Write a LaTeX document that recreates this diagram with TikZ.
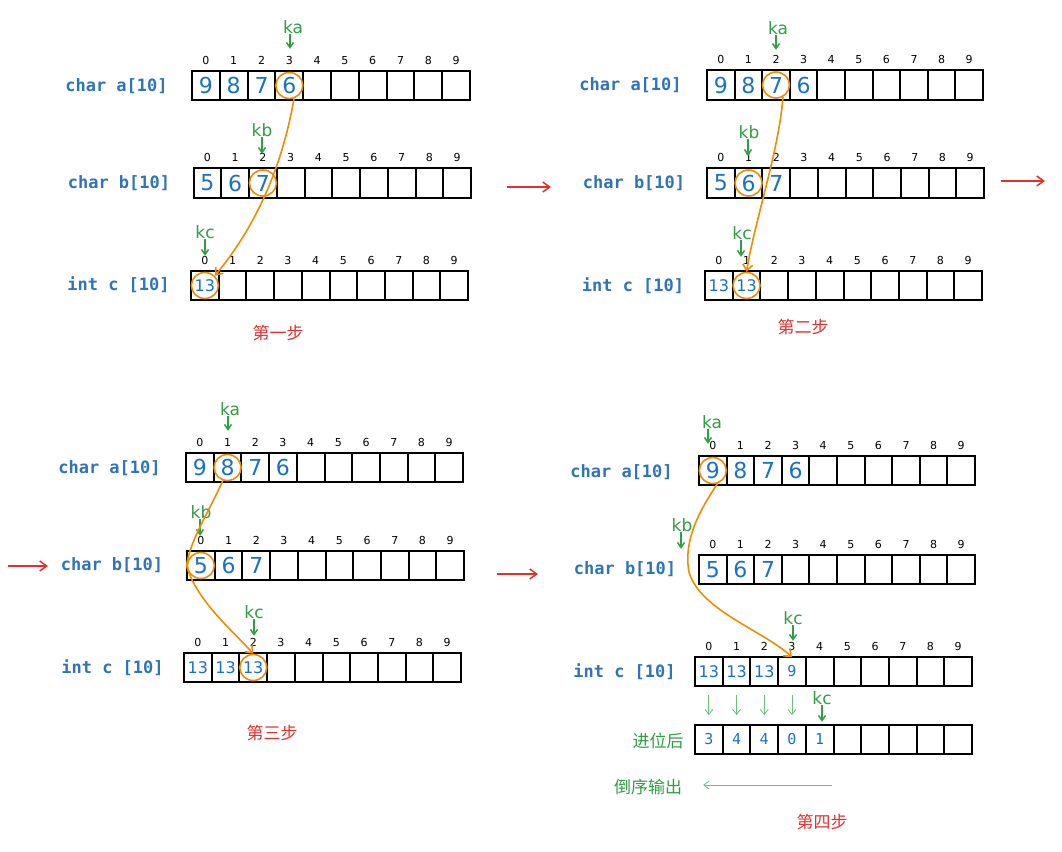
\documentclass[tikz,border=0pt]{standalone}
\usepackage{fontspec}
\setmainfont{DejaVu Sans}
\newfontfamily\cjk{Noto Sans CJK SC}
\newfontfamily\monof{DejaVu Sans Mono}
\usetikzlibrary{arrows.meta,shapes.geometric}
\definecolor{exblue}{HTML}{1971C2}
\definecolor{exlblue}{HTML}{2F74B8}
\definecolor{exgreen}{HTML}{2F9E44}
\definecolor{exlgreen}{HTML}{6CC07A}
\definecolor{exorange}{HTML}{F08C00}
\definecolor{exred}{HTML}{E03131}
\tikzset{
 cellbox/.style={draw=black, line width=2pt, inner sep=0pt, outer sep=0pt},
 idx/.style={font=\fontsize{11}{11}\selectfont, inner sep=0pt},
 bigd/.style={text=exblue, font=\fontsize{22}{22}\selectfont, inner sep=0pt},
 midd/.style={text=exblue, font=\fontsize{16}{16}\selectfont, inner sep=0pt},
 smalld/.style={text=exblue, font=\monof\fontsize{15}{15}\selectfont, inner sep=0pt},
 lbl/.style={text=exlblue, font=\monof\bfseries\fontsize{17}{17}\selectfont, inner sep=0pt},
 ptr/.style={text=exgreen, font=\fontsize{17}{17}\selectfont, inner sep=0pt},
 ring/.style={draw=exorange, ellipse, line width=1.6pt, minimum width=27pt, minimum height=26pt, inner sep=0pt},
 flow/.style={draw=exorange, line width=1.6pt, -{Straight Barb[length=6pt,width=10pt]}},
 garrow/.style={draw=exgreen, line width=1.5pt, -{Straight Barb[length=5pt,width=7pt]}},
 lgarrow/.style={draw=exlgreen, line width=0.8pt, -{Straight Barb[length=5pt,width=8pt]}},
 rarrow/.style={draw=exred, line width=1.5pt, -{Straight Barb[length=7pt,width=10pt]}},
 stepl/.style={text=exred, font=\cjk\fontsize{17}{17}\selectfont, inner sep=0pt},
 cjkg/.style={text=exgreen, font=\cjk\fontsize{17}{17}\selectfont, inner sep=0pt},
}
% #1 name prefix, #2 x left, #3 x right, #4 y top, #5 y bottom
\newcommand\cellrow[5]{%
 \pgfmathsetmacro\cw{(#3-#2)/10}%
 \pgfmathsetmacro\ch{#5-#4}%
 \pgfmathsetmacro\cy{(#4+#5)/2}%
 \foreach \i in {0,...,9}{%
   \node[cellbox, minimum width=\cw pt, minimum height=\ch pt] (#1\i) at ({#2+(\i+0.5)*\cw},\cy) {};
 }%
}
\newcommand\idxrow[1]{%
 \foreach \i in {0,...,9}{%
   \node[idx, yshift=10.5pt] (#1i\i) at (#1\i.north) {\i};
 }%
}
\newcommand\vals[3]{%
 \foreach \v [count=\k from 0] in {#3}{%
   \node[#2] (#1v\k) at (#1\k) {\v};
 }%
}
\begin{document}
\begin{tikzpicture}[x=1pt,y=-1pt]
\useasboundingbox (0,0) rectangle (1062,851);

% ---------------- Panel 1 ----------------
\node[lbl] (p1la) at (116.5,86) {char a[10]};
\node[lbl] (p1lb) at (119,183) {char b[10]};
\node[lbl] (p1lc) at (118.5,285) {int c [10]};
\cellrow{p1a}{192}{470}{71}{100}\idxrow{p1a}
\cellrow{p1b}{193.5}{471}{168}{198}\idxrow{p1b}
\cellrow{p1c}{191}{468}{271}{300}\idxrow{p1c}
\vals{p1a}{bigd}{9,8,7,6}
\vals{p1b}{bigd}{5,6,7}
\vals{p1c}{midd}{13}
\node[ptr] (p1ka) at (293,27) {ka};
\node[ptr] (p1kb) at (262,130) {kb};
\node[ptr] (p1kc) at (205,232) {kc};
\draw[garrow] ([xshift=-3pt]p1ka.south) -- ++(0,15);
\draw[garrow] (p1kb.south) -- ++(0,17);
\draw[garrow] (p1kc.south) -- ++(0,17);
\node[ring] (p1ra) at (p1a3) {};
\node[ring] (p1rb) at (p1b2) {};
\node[ring] (p1rc) at (p1c0) {};
\draw[flow] (p1ra.-70) .. controls (285,150) and (265,215) .. (p1rc.north east);
\node[stepl] (p1s) at (278,333) {第一步};

% ---------------- Panel 2 ----------------
\node[lbl] (p2la) at (630.5,85) {char a[10]};
\node[lbl] (p2lb) at (634,183) {char b[10]};
\node[lbl] (p2lc) at (633,286) {int c [10]};
\cellrow{p2a}{707}{983}{70}{100}\idxrow{p2a}
\cellrow{p2b}{707}{984}{168}{198}\idxrow{p2b}
\cellrow{p2c}{705}{982}{271}{300}\idxrow{p2c}
\vals{p2a}{bigd}{9,8,7,6}
\vals{p2b}{bigd}{5,6,7}
\vals{p2c}{midd}{13,13}
\node[ptr] (p2ka) at (778,28) {ka};
\node[ptr] (p2kb) at (749,132) {kb};
\node[ptr] (p2kc) at (742,233) {kc};
\draw[garrow] ([xshift=-2pt]p2ka.south) -- ++(0,15);
\draw[garrow] ([xshift=-1pt]p2kb.south) -- ++(0,17);
\draw[garrow] ([xshift=-1pt]p2kc.south) -- ++(0,17);
\node[ring] (p2ra) at (p2a2) {};
\node[ring] (p2rb) at (p2b1) {};
\node[ring] (p2rc) at (p2c1) {};
\draw[flow] (p2ra.-60) .. controls (779,150) and (755,220) .. (p2rc.north);
\node[stepl] (p2s) at (803,327) {第二步};

% ---------------- Panel 3 ----------------
\node[lbl] (p3la) at (109.5,468) {char a[10]};
\node[lbl] (p3lb) at (112,565) {char b[10]};
\node[lbl] (p3lc) at (112.5,668) {int c [10]};
\cellrow{p3a}{186}{463}{453}{482}\idxrow{p3a}
\cellrow{p3b}{187}{464}{551}{580}\idxrow{p3b}
\cellrow{p3c}{184}{461}{653}{682}\idxrow{p3c}
\vals{p3a}{bigd}{9,8,7,6}
\vals{p3b}{bigd}{5,6,7}
\vals{p3c}{midd}{13,13,13}
\node[ptr] (p3ka) at (230,409) {ka};
\node[ptr] (p3kb) at (201,512) {kb};
\node[ptr] (p3kc) at (254,612) {kc};
\draw[garrow] ([xshift=-2pt]p3ka.south) -- ++(0,15);
\draw[garrow] ([xshift=-1pt]p3kb.south) -- ++(0,17);
\draw[garrow] (p3kc.south) -- ++(0,17);
\node[ring] (p3ra) at (p3a1) {};
\node[ring] (p3rb) at (p3b0) {};
\node[ring] (p3rc) at (p3c2) {};
\draw[flow] (p3ra.-110) .. controls (210,510) and (190,540) .. (p3rb.west)
  .. controls (196,600) and (232,630) .. (p3rc.north);
\node[stepl] (p3s) at (272,733) {第三步};

% ---------------- Panel 4 ----------------
\node[lbl] (p4la) at (621.5,472) {char a[10]};
\node[lbl] (p4lb) at (625,569) {char b[10]};
\node[lbl] (p4lc) at (624.5,672) {int c [10]};
\cellrow{p4a}{699}{975}{456}{485}\idxrow{p4a}
\cellrow{p4b}{699}{975}{555}{584}\idxrow{p4b}
\cellrow{p4c}{695}{972}{657}{686}\idxrow{p4c}
\cellrow{p4d}{695}{972}{725}{754}
\vals{p4a}{bigd}{9,8,7,6}
\vals{p4b}{bigd}{5,6,7}
\vals{p4c}{midd}{13,13,13}
\node[smalld] (p4cv3) at (p4c3) {9};
\vals{p4d}{smalld}{3,4,4,0,1}
\node[ptr] (p4ka) at (712,422) {ka};
\node[ptr] (p4kb) at (682,525) {kb};
\node[ptr] (p4kc) at (793,618) {kc};
\node[ptr] (p4kd) at (822,698) {kc};
\draw[garrow] ([xshift=-4pt]p4ka.south) -- ++(0,15);
\draw[garrow] ([xshift=-1pt]p4kb.south) -- ++(0,17);
\draw[garrow] (p4kc.south) -- ++(0,16);
\draw[garrow] (p4kd.south) -- ++(0,17);
\node[ring] (p4ra) at (p4a0) {};
\draw[flow] (p4ra.-70) .. controls (700,510) and (683,540) .. (689,572)
  .. controls (700,610) and (762,630) .. (p4c3.north);
\foreach \i in {0,...,3}{
  \draw[lgarrow] ([yshift=-9pt]p4c\i.south) -- ([yshift=10pt]p4d\i.north);
}
\node[cjkg] (p4jw) at (658,741) {进位后};
\node[cjkg] (p4dx) at (648,787) {倒序输出};
\coordinate (p4rs) at (832,785);
\draw[lgarrow] (p4rs) -- ([xshift=21pt,yshift=2pt]p4dx.east);
\node[stepl] (p4s) at (822,822) {第四步};

% ---------------- Red arrows between panels ----------------
\coordinate (r1s) at (507,187); \coordinate (r1e) at (551,187);
\coordinate (r2s) at (1001,181); \coordinate (r2e) at (1045,181);
\coordinate (r3s) at (8,566); \coordinate (r3e) at (48,566);
\coordinate (r4s) at (497,574); \coordinate (r4e) at (538,574);
\draw[rarrow] (r1s) -- (r1e);
\draw[rarrow] (r2s) -- (r2e);
\draw[rarrow] (r3s) -- (r3e);
\draw[rarrow] (r4s) -- (r4e);
\end{tikzpicture}
\end{document}
